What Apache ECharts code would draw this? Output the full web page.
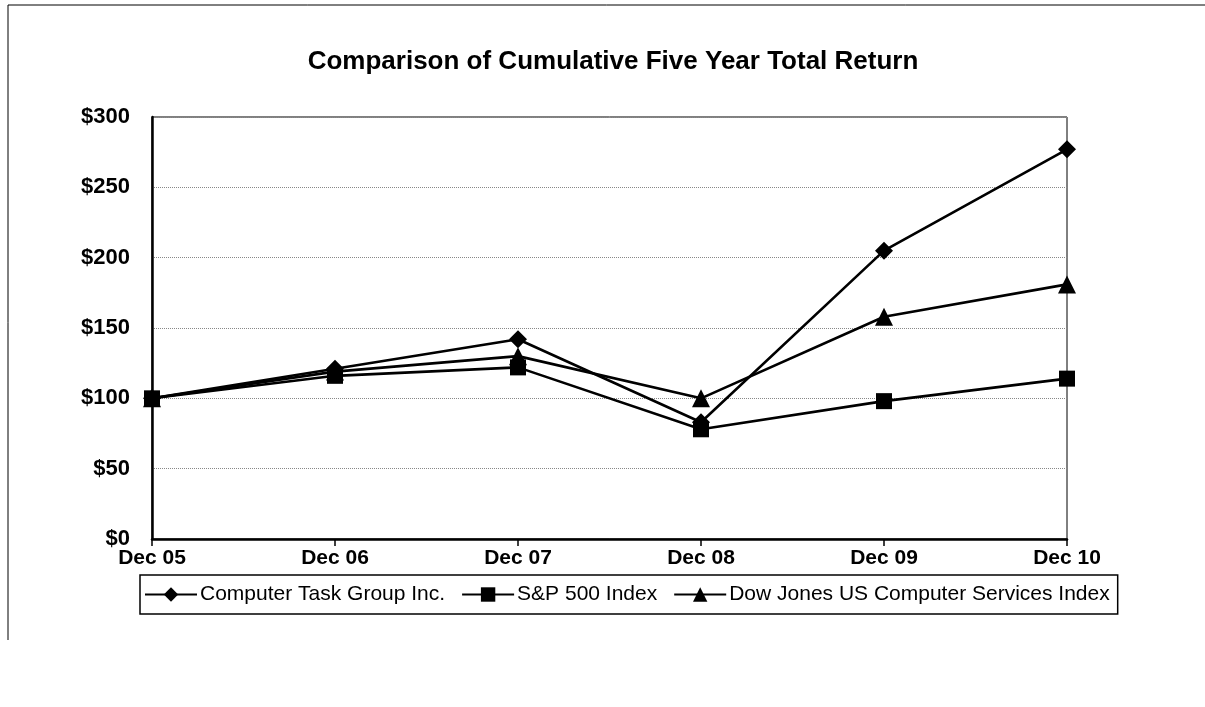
<!DOCTYPE html>
<html>
<head>
<meta charset="utf-8">
<script src="https://cdn.jsdelivr.net/npm/echarts@6/dist/echarts.min.js"></script>
<style>html,body{margin:0;padding:0;background:#fff}#c{width:1205px;height:707px}</style>
</head>
<body>
<div id="c"></div>
<script>
const categories = ['Dec 05', 'Dec 06', 'Dec 07', 'Dec 08', 'Dec 09', 'Dec 10'];
const ctg = [100, 121, 142, 83, 205, 277];
const sp500 = [100, 116, 122, 78, 98, 114];
const djcs = [100, 119, 130, 100, 158, 181];
const yTicks = [0, 50, 100, 150, 200, 250, 300];

const chart = echarts.init(document.getElementById('c'));
const font = 'Liberation Sans, Arial, sans-serif';
function mk(name, data, symbol, size) {
  return {
    name, type: 'line', data, symbol, symbolSize: size,
    showAllSymbol: true,
    lineStyle: { color: '#000', width: 2.6 },
    itemStyle: { color: '#000' },
    emphasis: { disabled: true },
    animation: false
  };
}
chart.setOption({
  animation: false,
  title: {
    text: 'Comparison of Cumulative Five Year Total Return',
    left: 608, top: 44, textAlign: 'center',
    textStyle: { fontFamily: font, fontSize: 26, fontWeight: 'bold', color: '#000' }
  },
  grid: { left: 152, right: 138, top: 117, bottom: 168, show: true, borderColor: '#000', borderWidth: 1 },
  xAxis: {
    type: 'category', data: categories, boundaryGap: false,
    axisLine: { lineStyle: { color: '#000', width: 2.5 } },
    axisTick: { show: true, length: 7, lineStyle: { color: '#000', width: 1.5 }, alignWithLabel: true },
    axisLabel: { fontFamily: font, fontSize: 21, fontWeight: 'bold', color: '#000', margin: 9 },
    splitLine: { show: false }
  },
  yAxis: {
    type: 'value', min: yTicks[0], max: yTicks[yTicks.length - 1], interval: 50,
    axisLine: { show: true, lineStyle: { color: '#000', width: 2.5 } },
    axisTick: { show: false },
    axisLabel: { fontFamily: font, fontSize: 22, fontWeight: 'bold', color: '#000', margin: 22, formatter: v => '$' + v },
    splitLine: { show: true, lineStyle: { color: '#888', width: 1, type: 'dotted' } }
  },
  legend: {
    left: 140, top: 575, width: 975,
    itemWidth: 52, itemHeight: 18, itemGap: 16,
    padding: [9, 8, 9, 4],
    borderColor: '#000', borderWidth: 1.5,
    textStyle: { fontFamily: font, fontSize: 21, color: '#000', padding: [0, 0, 0, -2] },
    data: ['Computer Task Group Inc.', 'S&P 500 Index', 'Dow Jones US Computer Services Index']
  },
  graphic: [
    { type: 'line', shape: { x1: 8, y1: 5, x2: 1205, y2: 5 }, style: { stroke: '#000', lineWidth: 1 } },
    { type: 'line', shape: { x1: 8, y1: 5, x2: 8, y2: 640 }, style: { stroke: '#000', lineWidth: 1 } }
  ],
  series: [
    mk('Computer Task Group Inc.', ctg, 'diamond', 18),
    mk('S&P 500 Index', sp500, 'rect', 16),
    mk('Dow Jones US Computer Services Index', djcs, 'triangle', 18)
  ]
});
</script>
</body>
</html>
